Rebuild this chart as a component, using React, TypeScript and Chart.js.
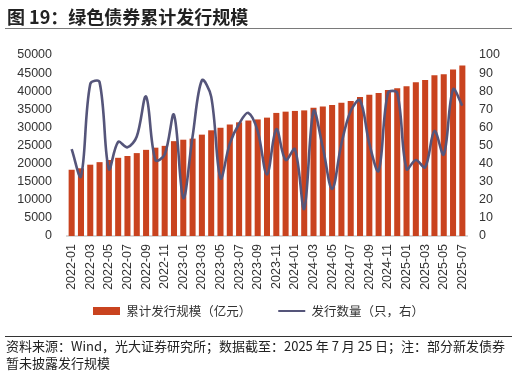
import React, { useEffect, useRef } from 'react';
import { Chart, registerables } from 'chart.js';

Chart.register(...registerables);

const months: string[] = [
  '2022-01', '2022-02', '2022-03', '2022-04', '2022-05', '2022-06', '2022-07', '2022-08', '2022-09', '2022-10', '2022-11', '2022-12',
  '2023-01', '2023-02', '2023-03', '2023-04', '2023-05', '2023-06', '2023-07', '2023-08', '2023-09', '2023-10', '2023-11', '2023-12',
  '2024-01', '2024-02', '2024-03', '2024-04', '2024-05', '2024-06', '2024-07', '2024-08', '2024-09', '2024-10', '2024-11', '2024-12',
  '2025-01', '2025-02', '2025-03', '2025-04', '2025-05', '2025-06', '2025-07',
];

// 累计发行规模（亿元）
const cumulativeScale: number[] = [
  18300, 18700, 19700, 20400, 21000, 21600, 22100, 22900, 23800, 24400, 24900, 26200,
  26600, 26900, 28000, 29200, 29900, 30800, 31400, 31900, 32200, 32700, 34000, 34350,
  34550, 34700, 35400, 35800, 36200, 36800, 37300, 38400, 39000, 39500, 40300, 40800,
  41400, 42500, 43100, 44400, 44700, 46000, 47100,
];

// 发行数量（只，右）
const issueCount: number[] = [
  48, 33, 84, 85, 37, 52, 49, 55, 77, 42, 45, 67,
  21, 55, 86, 77, 32, 51, 62, 68, 58, 34, 59, 42,
  48, 15, 69, 49, 26, 51, 69, 75, 51, 36, 79, 79,
  37, 42, 38, 58, 45, 81, 72,
];

const leftAxisMax = 50000;
const leftAxisStep = 5000;
const rightAxisMax = 100;
const rightAxisStep = 10;

const barLabel = '累计发行规模（亿元）';
const lineLabel = '发行数量（只，右）';
const titleText = '图 19：绿色债券累计发行规模';
const noteLines: string[] = [
  '资料来源：Wind，光大证券研究所；数据截至：2025 年 7 月 25 日；注：部分新发债券',
  '暂未披露发行规模',
];

const BAR_COLOR = '#C9431F';
const LINE_COLOR = '#55557A';
const CJK = '"Noto Sans CJK SC", "Noto Sans", sans-serif';
const LATIN = '"Liberation Sans", Arial, sans-serif';

const legendShift = {
  id: 'legendShift',
  afterLayout(chart: any) {
    const lg = chart.legend;
    if (lg) {
      lg.top -= 16.25;
      lg.bottom -= 16.25;
    }
  },
};

export default function App() {
  const canvasRef = useRef<HTMLCanvasElement | null>(null);

  useEffect(() => {
    if (!canvasRef.current) return;
    const chart = new Chart(canvasRef.current, {
      type: 'bar',
      data: {
        labels: months,
        datasets: [
          {
            type: 'bar',
            label: barLabel,
            data: cumulativeScale,
            backgroundColor: BAR_COLOR,
            borderWidth: 0,
            barPercentage: 0.65,
            categoryPercentage: 1,
            yAxisID: 'y',
            order: 2,
          },
          {
            type: 'line',
            label: lineLabel,
            data: issueCount,
            borderColor: LINE_COLOR,
            backgroundColor: LINE_COLOR,
            borderWidth: 2.6,
            pointRadius: 0,
            tension: 0.35,
            yAxisID: 'y1',
            order: 1,
          } as any,
        ],
      },
      options: {
        animation: false,
        responsive: false,
        maintainAspectRatio: false,
        layout: { padding: { top: 55, left: 0, right: 0, bottom: 29.5 } },
        plugins: {
          title: { display: false },
          tooltip: { enabled: false },
          legend: {
            display: true,
            position: 'bottom',
            labels: {
              usePointStyle: true,
              pointStyleWidth: 27,
              boxHeight: 8,
              padding: 27,
              color: '#333333',
              font: { family: CJK, size: 12.5 },
              generateLabels: (c: any) =>
                c.data.datasets.map((ds: any, i: number) => ({
                  text: ds.label,
                  fillStyle: i === 0 ? BAR_COLOR : LINE_COLOR,
                  strokeStyle: i === 0 ? BAR_COLOR : LINE_COLOR,
                  lineWidth: i === 0 ? 0 : 2,
                  pointStyle: i === 0 ? 'rect' : 'line',
                  hidden: false,
                  datasetIndex: i,
                  fontColor: '#333333',
                })),
            },
          },
        },
        scales: {
          x: {
            offset: true,
            grid: { display: false, drawTicks: false },
            border: { display: true, color: '#D9D9D9', width: 2 },
            ticks: {
              autoSkip: false,
              minRotation: 90,
              maxRotation: 90,
              padding: 8,
              color: '#333333',
              font: { family: LATIN, size: 12.5 },
              callback: (_v: any, idx: number) => (idx % 2 === 0 ? months[idx] : ''),
            },
            afterFit: (s: any) => {
              s.height = 58;
            },
          },
          y: {
            position: 'left',
            min: 0,
            max: leftAxisMax,
            grid: { display: false, drawTicks: false },
            border: { display: false },
            ticks: {
              stepSize: leftAxisStep,
              padding: 15,
              color: '#333333',
              font: { family: LATIN, size: 12.5 },
              callback: (v: any) => String(v),
            },
            afterFit: (s: any) => {
              s.width = 67;
            },
          },
          y1: {
            position: 'right',
            min: 0,
            max: rightAxisMax,
            grid: { display: false, drawTicks: false },
            border: { display: false },
            ticks: {
              stepSize: rightAxisStep,
              padding: 12,
              color: '#333333',
              font: { family: LATIN, size: 12.5 },
              callback: (v: any) => String(v),
            },
            afterFit: (s: any) => {
              s.width = 50;
            },
          },
        },
      } as any,
      plugins: [legendShift],
    });
    return () => chart.destroy();
  }, []);

  return (
    <div style={{ position: 'fixed', left: 0, top: 0, width: 517, height: 373, background: '#fff', overflow: 'hidden' }}>
      <canvas ref={canvasRef} width={517} height={373} style={{ position: 'absolute', left: 0, top: 0, width: 517, height: 373 }} />
      <div
        style={{
          position: 'absolute', left: 7, top: 7, fontFamily: CJK, fontWeight: 700, fontSize: 18,
          lineHeight: '18px', color: '#222', whiteSpace: 'nowrap',
        }}
      >
        {titleText}
      </div>
      <div style={{ position: 'absolute', left: 5, top: 27.5, width: 507, height: 1.5, background: '#7A7A7A' }} />
      <div style={{ position: 'absolute', left: 5, top: 335.5, width: 507, height: 1, background: '#333' }} />
      <div
        style={{
          position: 'absolute', left: 6, top: 337, fontFamily: CJK, fontSize: 13, lineHeight: '17px',
          color: '#222', whiteSpace: 'nowrap',
        }}
      >
        {noteLines.map((t, i) => (
          <div key={i}>{t}</div>
        ))}
      </div>
    </div>
  );
}
